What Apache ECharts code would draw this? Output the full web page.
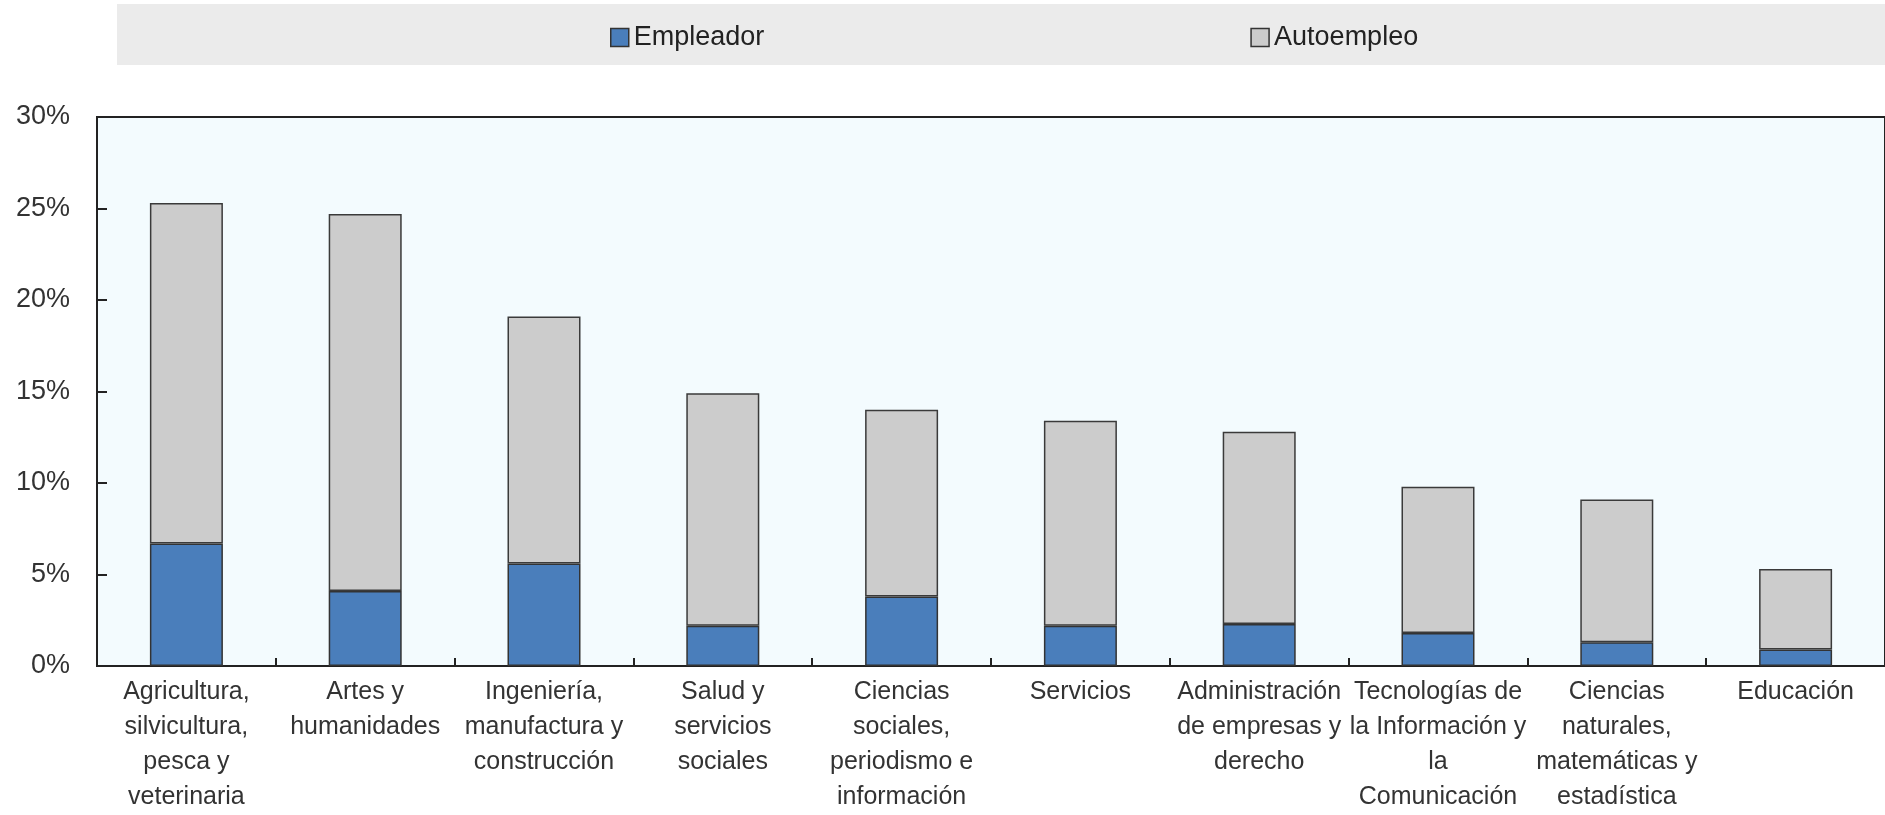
<!DOCTYPE html>
<html>
<head>
<meta charset="utf-8">
<script src="https://cdn.jsdelivr.net/npm/echarts@6/dist/echarts.min.js"></script>
<style>
html,body{margin:0;padding:0;background:#fff;}
#chart{width:1885px;height:815px;}
</style>
</head>
<body>
<div id="chart"></div>
<script>
const categories = [
  "Agricultura,\nsilvicultura,\npesca y\nveterinaria",
  "Artes y\nhumanidades",
  "Ingeniería,\nmanufactura y\nconstrucción",
  "Salud y\nservicios\nsociales",
  "Ciencias\nsociales,\nperiodismo e\ninformación",
  "Servicios",
  "Administración\nde empresas y\nderecho",
  "Tecnologías de\nla Información y\nla\nComunicación",
  "Ciencias\nnaturales,\nmatemáticas y\nestadística",
  "Educación"
];
const empleador = [6.7, 4.1, 5.6, 2.2, 3.8, 2.2, 2.3, 1.8, 1.3, 0.9];
const autoempleo = [18.6, 20.6, 13.5, 12.7, 10.2, 11.2, 10.5, 8.0, 7.8, 4.4];
const yTicks = [0, 5, 10, 15, 20, 25, 30];

const chart = echarts.init(document.getElementById('chart'));
const font = "'Liberation Sans', Arial, sans-serif";
chart.setOption({
  animation: false,
  textStyle: { fontFamily: font },
  graphic: [{
    type: 'rect',
    shape: { x: 117, y: 4, width: 1768, height: 61 },
    style: { fill: '#ebebeb' },
    z: -10
  }],
  legend: {
    left: 605,
    top: 19,
    icon: 'rect',
    itemWidth: 18,
    itemHeight: 18,
    itemGap: 486,
    textStyle: { fontSize: 27, color: '#222', fontFamily: font },
    data: [
      { name: 'Empleador', itemStyle: { color: '#4a7ebb', borderColor: '#333', borderWidth: 1.5 } },
      { name: 'Autoempleo', itemStyle: { color: '#cccccc', borderColor: '#333', borderWidth: 1.5 } }
    ]
  },
  grid: {
    left: 97, right: 0, top: 117, bottom: 143,
    show: true,
    backgroundColor: '#f3fbfe',
    borderColor: '#222',
    borderWidth: 2
  },
  xAxis: {
    type: 'category',
    data: categories,
    axisLine: { lineStyle: { color: '#222', width: 2 } },
    axisTick: { show: true, inside: false, length: -8, lineStyle: { color: '#222', width: 2 } },
    axisLabel: {
      interval: 0,
      fontSize: 25,
      lineHeight: 35,
      color: '#333',
      margin: 9,
      fontFamily: font
    }
  },
  yAxis: {
    type: 'value',
    min: 0, max: 30, interval: 5,
    axisLine: { show: true, lineStyle: { color: '#222', width: 2 } },
    axisTick: { show: true, inside: false, length: -10, lineStyle: { color: '#222', width: 2 } },
    splitLine: { show: false },
    axisLabel: {
      fontSize: 27,
      color: '#333',
      margin: 27,
      fontFamily: font,
      formatter: v => yTicks.includes(v) ? v + '%' : ''
    }
  },
  series: [
    {
      name: 'Empleador',
      type: 'bar',
      stack: 'total',
      data: empleador,
      barWidth: 73,
      itemStyle: { color: '#4a7ebb', borderColor: '#333', borderWidth: 1.5 }
    },
    {
      name: 'Autoempleo',
      type: 'bar',
      stack: 'total',
      data: autoempleo,
      barWidth: 73,
      itemStyle: { color: '#cccccc', borderColor: '#3a3a3a', borderWidth: 1.5 }
    }
  ]
});
</script>
</body>
</html>
